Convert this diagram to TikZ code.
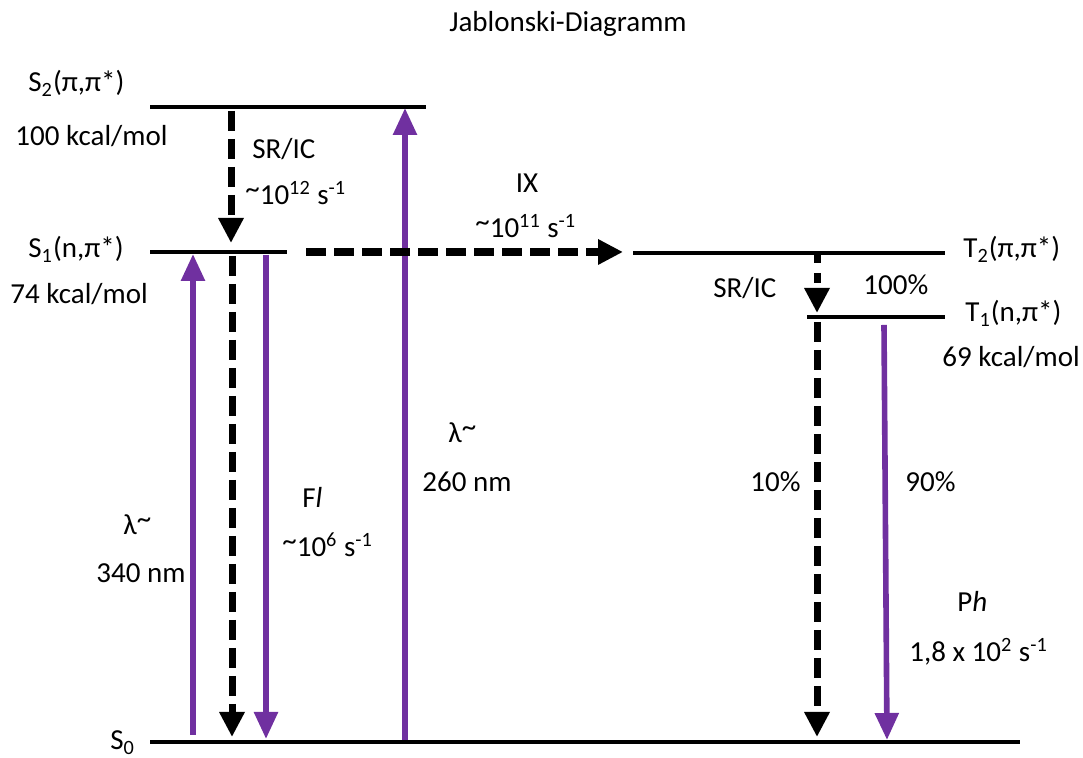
\documentclass[tikz,border=0pt]{standalone}
\usepackage{fontspec}
\setmainfont{Carlito}
\usetikzlibrary{arrows.meta,positioning}

\definecolor{jpurple}{RGB}{112,48,160}
\newcommand{\tld}{\raisebox{0.22em}{\textasciitilde}}

\begin{document}
\begin{tikzpicture}[x=0.5pt, y=0.5pt,
    lvl/.style={line width=2.4pt},
    txt/.style={inner sep=0pt, anchor=base west, font=\fontsize{14.5}{17}\selectfont},
    nonrad/.style={line width=3.5pt, dash pattern=on 10pt off 4pt, -{Triangle[length=12.5pt, width=12pt]}},
    photon/.style={line width=2.8pt, jpurple, -{Triangle[length=13.5pt, width=11.5pt]}}
]
\useasboundingbox (0,0) rectangle (1083,758);

% energy levels
\coordinate (S2a) at (150,651); \coordinate (S2b) at (426,651);
\coordinate (S1a) at (150,506); \coordinate (S1b) at (287,506);
\coordinate (T2a) at (633,505); \coordinate (T2b) at (945,505);
\coordinate (T1a) at (807,441); \coordinate (T1b) at (945,441);
\coordinate (S0a) at (150,16);  \coordinate (S0b) at (1020,16);
\draw[lvl] (S2a) -- (S2b);
\draw[lvl] (S1a) -- (S1b);
\draw[lvl] (T2a) -- (T2b);
\draw[lvl] (T1a) -- (T1b);
\draw[lvl] (S0a) -- (S0b);

% transitions
\coordinate (ic1a) at (231,647); \coordinate (ic1b) at (231,515);
\coordinate (ic2a) at (232,502); \coordinate (ic2b) at (232,21);
\coordinate (absAa) at (193,23); \coordinate (absAb) at (193,504);
\coordinate (flua) at (266,503); \coordinate (flub) at (266,19);
\coordinate (absBa) at (405,18); \coordinate (absBb) at (405,650);
\coordinate (isca) at (306,506); \coordinate (iscb) at (623,506);
\coordinate (ic3a) at (817,505); \coordinate (ic3b) at (817,445);
\coordinate (ic4a) at (817,436); \coordinate (ic4b) at (817,21);
\coordinate (phoa) at (884,433); \coordinate (phob) at (887,18);
\draw[nonrad] (ic1a) -- (ic1b);
\draw[nonrad] (ic2a) -- (ic2b);
\draw[photon] (absAa) -- (absAb);
\draw[photon] (flua) -- (flub);
\draw[photon] (absBa) -- (absBb);
\draw[nonrad, line width=4pt] (isca) -- (iscb);
\draw[nonrad, dash pattern=on 5pt off 5pt] (ic3a) -- (ic3b);
\draw[nonrad] (ic4a) -- (ic4b);
\draw[photon] (phoa) -- (phob);

% labels
\node[txt, anchor=base] (title) at (568,726) {Jablonski-Diagramm};
\node[txt] (s2) at (28,666) {S\textsubscript{2}(π,π*)};
\node[txt] (s2e) at (15,612) {100 kcal/mol};
\node[txt] (s1) at (28,500) {S\textsubscript{1}(n,π*)};
\node[txt] (s1e) at (10,454) {74 kcal/mol};
\node[txt] (s0) at (110,8) {S\textsubscript{0}};
\node[txt] (t2) at (963,500) {T\textsubscript{2}(π,π*)};
\node[txt] (t1) at (965,436) {T\textsubscript{1}(n,π*)};
\node[txt] (t1e) at (942,391) {69 kcal/mol};
\node[txt] (ic1) at (252,599) {SR/IC};
\node[txt] (ic1k) at (245,553) {\tld10\textsuperscript{12} s\textsuperscript{-1}};
\node[txt, anchor=base] (isc) at (527,565) {IX};
\node[txt] (isck) at (475,520) {\tld10\textsuperscript{11} s\textsuperscript{-1}};
\node[txt] (ic3) at (713,460) {SR/IC};
\node[txt] (ic3p) at (863,463) {100\%};
\node[txt] (absA) at (123,223) {λ\tld};
\node[txt] (absAn) at (96,175) {340 nm};
\node[txt] (flu) at (302,250) {F\textit{l}};
\node[txt] (fluk) at (282,201) {\tld10\textsuperscript{6} s\textsuperscript{-1}};
\node[txt] (absB) at (448,315) {λ\tld};
\node[txt] (absBn) at (422,266) {260 nm};
\node[txt] (ic4p) at (750,266) {10\%};
\node[txt] (phop) at (905,266) {90\%};
\node[txt] (pho) at (957,146) {P\textit{h}};
\node[txt] (phok) at (909,96) {1,8 x 10\textsuperscript{2} s\textsuperscript{-1}};
\end{tikzpicture}
\end{document}
